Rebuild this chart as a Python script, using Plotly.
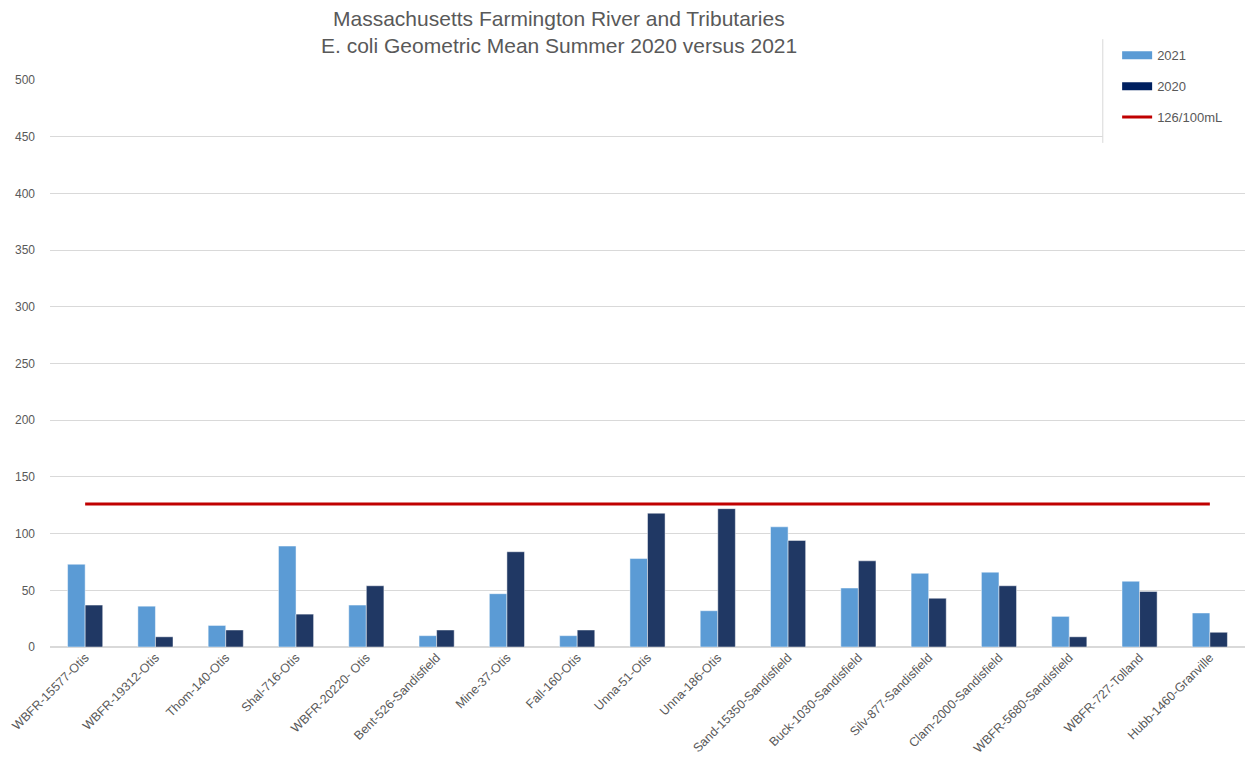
import plotly.graph_objects as go

categories = [
    "WBFR-15577-Otis", "WBFR-19312-Otis", "Thom-140-Otis", "Shal-716-Otis",
    "WBFR-20220- Otis", "Bent-526-Sandisfield", "Mine-37-Otis", "Fall-160-Otis",
    "Unna-51-Otis", "Unna-186-Otis", "Sand-15350-Sandisfield", "Buck-1030-Sandisfield",
    "Silv-877-Sandisfield", "Clam-2000-Sandisfield", "WBFR-5680-Sandisfield",
    "WBFR-727-Tolland", "Hubb-1460-Granville",
]
values_2021 = [73, 36, 19, 89, 37, 10, 47, 10, 78, 32, 106, 52, 65, 66, 27, 58, 30]
values_2020 = [37, 9, 15, 29, 54, 15, 84, 15, 118, 122, 94, 76, 43, 54, 9, 49, 13]
standard_value = 126
standard_name = "126/100mL"
title_lines = ["Massachusetts Farmington River and Tributaries",
               "E. coli Geometric Mean Summer 2020 versus 2021"]

C2021 = "#5B9BD5"
C2020 = "#203864"
CRED = "#C00000"
GRAY = "#595959"
FONT = "Liberation Sans"

fig = go.Figure()
fig.add_trace(go.Bar(x=categories, y=values_2021, name="2021", marker_color=C2021,
                     marker_line=dict(color="rgba(255,255,255,0.6)", width=0.8),
                     showlegend=False))
fig.add_trace(go.Bar(x=categories, y=values_2020, name="2020", marker_color=C2020,
                     marker_line=dict(color="rgba(255,255,255,0.6)", width=0.8),
                     showlegend=False))
fig.add_trace(go.Scatter(x=categories, y=[standard_value] * len(categories), mode="lines",
                         line=dict(color=CRED, width=3), name=standard_name,
                         legendgroup="c", legendrank=3))
# legend-only entries with wide bar swatches
fig.add_trace(go.Scatter(x=[None], y=[None], mode="lines", line=dict(color=C2021, width=8),
                         name="2021", legendgroup="a", legendrank=1))
fig.add_trace(go.Scatter(x=[None], y=[None], mode="lines", line=dict(color="#002060", width=8),
                         name="2020", legendgroup="b", legendrank=2))

annotations = [
    dict(text=title_lines[0], xref="paper", yref="paper", x=0.426, y=1.1076,
         xanchor="center", yanchor="middle", showarrow=False,
         font=dict(family=FONT, size=21, color=GRAY)),
    dict(text=title_lines[1], xref="paper", yref="paper", x=0.426, y=1.0600,
         xanchor="center", yanchor="middle", showarrow=False,
         font=dict(family=FONT, size=21, color=GRAY)),
]

fig.update_layout(
    width=1246, height=766,
    margin=dict(l=50, r=1, t=80, b=119),
    paper_bgcolor="white", plot_bgcolor="white",
    font=dict(family=FONT, color=GRAY, size=12),
    barmode="group", bargap=0.5, bargroupgap=0,
    annotations=annotations,
    xaxis=dict(tickangle=-45, showgrid=False, zeroline=False, showline=False,
               ticks="", tickfont=dict(size=12.5, color=GRAY)),
    yaxis=dict(range=[0, 500], dtick=50, showgrid=True, gridcolor="#D9D9D9", gridwidth=1,
               zeroline=True, zerolinecolor="#D9D9D9", zerolinewidth=1.5, showline=False,
               ticks="", ticklabelstandoff=14, tickfont=dict(size=12, color=GRAY)),
    legend=dict(x=0.893, xanchor="left", y=1.07, yanchor="top",
                bgcolor="rgba(0,0,0,0)", borderwidth=0, tracegroupgap=11,
                font=dict(size=13, color=GRAY), traceorder="grouped"),
    shapes=[
        dict(type="rect", xref="paper", yref="paper", x0=0.881, x1=1.0, y0=0.889, y1=1.08,
             fillcolor="white", line=dict(width=0), layer="above"),
        dict(type="line", xref="paper", yref="paper", x0=0.881, x1=0.881, y0=0.889, y1=1.072,
             line=dict(color="#D9D9D9", width=1), layer="above"),
    ],
)

fig.write_html("out.html")
